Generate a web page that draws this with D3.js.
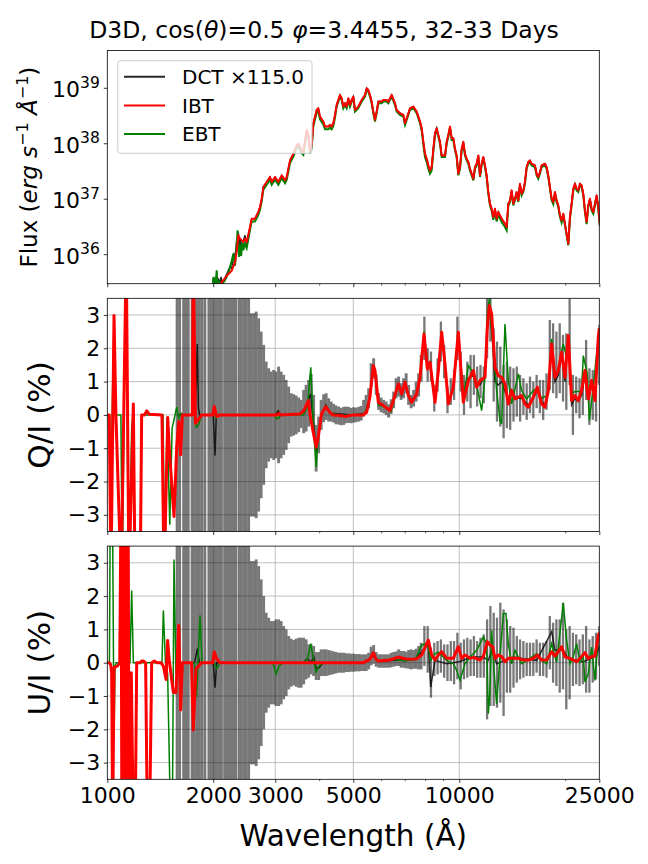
<!DOCTYPE html>
<html><head><meta charset="utf-8">
<script src="https://cdn.jsdelivr.net/npm/d3@7"></script>
<style>body{margin:0;background:#fff}svg text{font-family:"DejaVu Sans",sans-serif}</style>
</head><body>
<svg id="c" width="648" height="864"></svg>
<script>
// ---------------- DATA ----------------
const titleText = ["D3D, cos(", "θ", ")=0.5 ", "φ", "=3.4455, 32-33 Days"];
const legendLabels = ["DCT ×115.0", "IBT", "EBT"];
const xMajorTicks = [1000, 2000, 3000, 5000, 10000, 25000];
const xMinorTicks = [4000, 6000, 7000, 8000, 9000, 20000];
const xGridTicks = [2000, 3000, 5000, 10000];
const polTicks = [-3, -2, -1, 0, 1, 2, 3];
const fluxTickExp = [36, 37, 38, 39];

// flux: [wavelength (Å), log10 flux]
const fluxIBT = [[2080,35.2],[2113,35.5],[2184,35.62],[2256,35.71],[2306,35.865],[2331,36.05],[2357,36.35],[2383,36.29],[2435,36.23],[2462,36.29],[2489,36.23],[2544,36.5],[2572,36.65],[2628,36.65],[2686,36.77],[2716,36.86],[2746,37.01],[2776,37.22],[2837,37.31],[2900,37.4],[2932,37.31],[2996,37.4],[3062,37.31],[3130,37.43],[3199,37.34],[3234,37.4],[3305,37.7],[3378,37.82],[3452,37.97],[3490,38],[3567,37.88],[3606,37.85],[3686,38.25],[3726,38.16],[3767,37.88],[3808,37.97],[3850,38.37],[3935,38.61],[3977,38.64],[4021,38.49],[4110,38.4],[4155,38.31],[4246,38.31],[4293,38.34],[4340,38.31],[4387,38.37],[4436,38.52],[4484,38.7],[4583,38.88],[4634,38.82],[4684,38.67],[4736,38.73],[4787,38.67],[4840,38.82],[4893,38.7],[4946,38.79],[5001,38.85],[5055,38.61],[5167,38.67],[5281,38.79],[5398,38.88],[5457,39],[5517,38.97],[5577,38.88],[5638,38.76],[5700,38.58],[5762,38.43],[5825,38.58],[5889,38.76],[6019,38.76],[6085,38.79],[6219,38.79],[6287,38.76],[6426,38.88],[6568,38.73],[6640,38.61],[6786,38.55],[6937,38.52],[7013,38.37],[7090,38.46],[7246,38.64],[7406,38.67],[7569,38.58],[7736,38.4],[7821,38.28],[7907,38.035],[7993,37.82],[8081,37.73],[8169,37.61],[8259,37.52],[8349,37.58],[8441,37.91],[8533,38.19],[8627,38.28],[8721,38.16],[8817,38.035],[8913,37.79],[9110,37.79],[9210,38.035],[9311,38.16],[9413,38.31],[9516,38.1],[9620,38.1],[9726,37.91],[9832,37.79],[9940,37.46],[10049,37.58],[10159,37.91],[10270,38.035],[10383,37.82],[10497,37.73],[10612,37.67],[10728,37.55],[10845,37.46],[10965,37.37],[11085,37.58],[11206,37.64],[11329,37.79],[11453,37.43],[11578,37.64],[11705,37.76],[11834,37.61],[11963,37.43],[12094,37.13],[12227,36.92],[12361,36.83],[12496,36.68],[12633,36.83],[12771,36.65],[12911,36.77],[13196,36.65],[13487,36.56],[13635,36.5],[13784,36.92],[13935,36.98],[14088,37.16],[14242,36.92],[14398,37.01],[14556,37.13],[14716,36.98],[14877,37.28],[15040,37.1],[15205,37.16],[15372,37.31],[15540,37.58],[15710,37.67],[15883,37.7],[16057,37.64],[16411,37.61],[16590,37.46],[16772,37.4],[16956,37.49],[17142,37.61],[17520,37.64],[17712,37.58],[17906,37.43],[18102,37.22],[18301,37.01],[18501,36.95],[18704,37.13],[18909,36.98],[19116,36.89],[19326,36.71],[19538,36.62],[19752,36.74],[19968,36.56],[20187,36.38],[20409,36.2],[20632,36.68],[20858,36.92],[21087,37.19],[21318,37.28],[21552,37.19],[21788,37.16],[22027,37.28],[22268,37.25],[22512,37.1],[22759,36.8],[23008,36.59],[23260,36.89],[23515,37.01],[23773,36.83],[24033,36.77],[24297,36.92],[24563,37.07],[24832,36.86],[25104,36.53]];
const fluxEBT = [[1990,35.3],[2005,35.6],[2020,35.42],[2040,35.62],[2046,35.72],[2055,35.42],[2075,35.5],[2095,35.38],[2113,35.48],[2150,35.52],[2184,35.6],[2220,35.72],[2256,35.88],[2280,36.02],[2306,35.8],[2331,36.15],[2345,36.44],[2357,36.15],[2370,35.96],[2383,36.18],[2400,35.98],[2420,36.25],[2435,36.08],[2462,36.2],[2489,36.12],[2544,36.45],[2572,36.6],[2628,36.6],[2686,36.72],[2716,36.81],[2746,36.96],[2776,37.17],[2837,37.26],[2900,37.35],[2932,37.26],[2996,37.35],[3062,37.26],[3130,37.38],[3199,37.29],[3234,37.35],[3305,37.65],[3378,37.77],[3452,37.92],[3490,37.95],[3567,37.83],[3606,37.8],[3686,38.2],[3726,38.11],[3767,37.83],[3808,37.92],[3850,38.32],[3935,38.56],[3977,38.59],[4021,38.44],[4110,38.35],[4155,38.26],[4246,38.26],[4293,38.29],[4340,38.26],[4387,38.32],[4436,38.47],[4484,38.67],[4583,38.85],[4634,38.79],[4684,38.64],[4736,38.7],[4787,38.64],[4840,38.79],[4893,38.67],[4946,38.76],[5001,38.82],[5055,38.58],[5167,38.64],[5281,38.76],[5398,38.85],[5457,38.97],[5517,38.94],[5577,38.85],[5638,38.73],[5700,38.55],[5762,38.4],[5825,38.55],[5889,38.73],[6019,38.73],[6085,38.76],[6219,38.76],[6287,38.73],[6426,38.85],[6568,38.7],[6640,38.58],[6786,38.52],[6937,38.49],[7013,38.34],[7090,38.43],[7246,38.61],[7406,38.64],[7569,38.55],[7736,38.37],[7821,38.24],[7907,37.98],[7993,37.76],[8081,37.67],[8169,37.55],[8259,37.46],[8349,37.52],[8441,37.86],[8533,38.16],[8627,38.25],[8721,38.13],[8817,38.0],[8913,37.76],[9110,37.76],[9210,38.0],[9311,38.13],[9413,38.28],[9516,38.07],[9620,38.07],[9726,37.88],[9832,37.76],[9940,37.43],[10049,37.55],[10159,37.88],[10270,38.0],[10383,37.79],[10497,37.7],[10612,37.64],[10728,37.52],[10845,37.43],[10965,37.34],[11085,37.55],[11206,37.61],[11329,37.76],[11453,37.4],[11578,37.61],[11705,37.73],[11834,37.58],[11963,37.4],[12094,37.1],[12227,36.89],[12361,36.79],[12496,36.63],[12633,36.78],[12771,36.6],[12911,36.72],[13196,36.59],[13487,36.5],[13635,36.44],[13784,36.88],[13935,36.95],[14088,37.13],[14242,36.89],[14398,36.98],[14556,37.1],[14716,36.95],[14877,37.25],[15040,37.07],[15205,37.13],[15372,37.28],[15540,37.55],[15710,37.64],[15883,37.67],[16057,37.61],[16411,37.58],[16590,37.43],[16772,37.37],[16956,37.46],[17142,37.58],[17520,37.61],[17712,37.55],[17906,37.4],[18102,37.19],[18301,36.98],[18501,36.91],[18704,37.1],[18909,36.95],[19116,36.86],[19326,36.68],[19538,36.58],[19752,36.71],[19968,36.53],[20187,36.35],[20409,36.17],[20632,36.65],[20858,36.89],[21087,37.16],[21318,37.25],[21552,37.16],[21788,37.13],[22027,37.25],[22268,37.22],[22512,37.07],[22759,36.77],[23008,36.55],[23260,36.86],[23515,36.98],[23773,36.8],[24033,36.74],[24297,36.89],[24563,37.04],[24832,36.83],[25104,36.5]];
const fluxDCT = [[1990,35.4],[2000,35.58],[2012,35.35],[2025,35.55],[2040,35.5],[2052,35.3],[2070,35.55],[2090,35.5],[2105,35.6],[2120,35.45],[2150,35.55],[2184,35.65],[2230,35.78],[2256,35.75],[2290,36.0],[2306,35.95],[2331,36.25],[2345,36.2],[2357,36.4],[2370,36.12],[2383,36.3],[2400,36.1],[2420,36.15],[2435,36.25],[2462,36.35],[2489,36.2],[2544,36.5],[2572,36.65],[2628,36.65],[2686,36.77],[2716,36.86],[2746,37.01],[2776,37.22],[2837,37.31],[2900,37.4],[2932,37.31],[2996,37.4],[3062,37.31],[3130,37.43],[3199,37.34],[3234,37.4],[3305,37.7],[3378,37.82],[3452,37.97],[3490,38],[3567,37.88],[3606,37.85],[3686,38.25],[3726,38.16],[3767,37.88],[3808,37.97],[3850,38.37],[3935,38.61],[3977,38.64],[4021,38.49],[4110,38.4],[4155,38.31],[4246,38.31],[4293,38.34],[4340,38.31],[4387,38.37],[4436,38.52],[4484,38.7],[4583,38.88],[4634,38.82],[4684,38.67],[4736,38.73],[4787,38.67],[4840,38.82],[4893,38.7],[4946,38.79],[5001,38.85],[5055,38.61],[5167,38.67],[5281,38.79],[5398,38.88],[5457,39],[5517,38.97],[5577,38.88],[5638,38.76],[5700,38.58],[5762,38.43],[5825,38.58],[5889,38.76],[6019,38.76],[6085,38.79],[6219,38.79],[6287,38.76],[6426,38.88],[6568,38.73],[6640,38.61],[6786,38.55],[6937,38.52],[7013,38.37],[7090,38.46],[7246,38.64],[7406,38.67],[7569,38.58],[7736,38.4],[7821,38.28],[7907,38.035],[7993,37.82],[8081,37.73],[8169,37.61],[8259,37.52],[8349,37.58],[8441,37.91],[8533,38.19],[8627,38.28],[8721,38.16],[8817,38.035],[8913,37.79],[9110,37.79],[9210,38.035],[9311,38.16],[9413,38.31],[9516,38.1],[9620,38.1],[9726,37.91],[9832,37.79],[9940,37.46],[10049,37.58],[10159,37.91],[10270,38.035],[10383,37.82],[10497,37.73],[10612,37.67],[10728,37.55],[10845,37.46],[10965,37.37],[11085,37.58],[11206,37.64],[11329,37.79],[11453,37.43],[11578,37.64],[11705,37.76],[11834,37.61],[11963,37.43],[12094,37.13],[12227,36.92],[12361,36.83],[12496,36.68],[12633,36.83],[12771,36.65],[12911,36.77],[13196,36.65],[13487,36.56],[13635,36.5],[13784,36.92],[13935,36.98],[14088,37.16],[14242,36.92],[14398,37.01],[14556,37.13],[14716,36.98],[14877,37.28],[15040,37.1],[15205,37.16],[15372,37.31],[15540,37.58],[15710,37.67],[15883,37.7],[16057,37.64],[16411,37.61],[16590,37.46],[16772,37.4],[16956,37.49],[17142,37.61],[17520,37.64],[17712,37.58],[17906,37.43],[18102,37.22],[18301,37.01],[18501,36.95],[18704,37.13],[18909,36.98],[19116,36.89],[19326,36.71],[19538,36.62],[19752,36.74],[19968,36.56],[20187,36.38],[20409,36.2],[20632,36.68],[20858,36.92],[21087,37.19],[21318,37.28],[21552,37.19],[21788,37.16],[22027,37.28],[22268,37.25],[22512,37.1],[22759,36.8],[23008,36.59],[23260,36.89],[23515,37.01],[23773,36.83],[24033,36.77],[24297,36.92],[24563,37.07],[24832,36.86],[25104,36.53]];

// binned error bars (Å) – three stretches of bins
const binLamA = [1579,1605,1648,1675,1698,1742,1767,1796,1826,1856,1893,1944,1976,2009,2042,2076,2110,2155,2182,2218,2254,2291,2316,2368,2400,2440,2480,2521];
const binLamB = [2563,2605,2648,2691,2736,2781,2827,2873,2921,2969,3018,3068,3118,3170,3222,3275,3329,3384,3440,3497,3554,3613,3672,3733,3795,3857,3921,3985,4051,4118,4186,4255,4325,4396,4469,4543,4618,4694,4771,4850,4930,5011,5094,5178,5263,5350,5438,5528,5619,5712,5806,5902,5999,6098,6199,6301,6405,6510,6618,6727,6838,6950,7065,7181,7300,7420,7543,7667,7793];
const binLamC = [7960,8134,8311,8493,8678,8868,9061,9259,9461,9668,9879,10094,10315,10540,10770,11005,11245,11491,11742,11998,12260,12528,12801,13081,13366,13658,13956,14261,14572,14890,15215,15547,15887,16234,16588,16950,17320,17698,18085,18479,18883,19295,19716,20147,20587,21036,21495,21965,22444,22934,23435,23946,24469,25003];

const qMidA = [0,0,0,0,0,0,0,0,0,0,0,0,0,0,0,0,0,0,0,0,0,0,0,0,0,0,0,0];
const qErrA = [9,9,9,9,9,9,9,9,9,9,9,9,9,9,9,9,9,9,9,9,9,9,9,9,9,9,9,9];
const qMidB = [0,0,0,0,0,0,0,0,0,0, 0,0,0,0,0,0,0,0,0,0, 0.03,0.1,0.2,0.35,0.63,0,-1,-0.6,0,0.2, 0.25,0.15,0.1,0.05,0,-0.02,-0.05,-0.03,0,0, -0.02,0,0,0.02,0.05,0.2,0.35,0.5,1.2,1.4, 0.9,0.4,0.3,0.25,0.2,0.12,0.25,0.45,0.8,0.85, 0.7,0.8,0.95,0.6,0.4,0.5,0.7,0.9,1.4];
const qErrB = [3.05,3.05,3.1,2.9,2.5,2.1,1.6,1.4,1.3,1.35, 1.3,1.45,1.3,1.2,1.05,0.85,0.65,0.62,0.58,0.52, 0.42,0.65,0.7,0.7,0.6,0.6,0.7,0.55,0.45,0.42, 0.4,0.35,0.3,0.28,0.28,0.27,0.26,0.27,0.25,0.24, 0.23,0.23,0.22,0.22,0.22,0.25,0.25,0.3,0.35,0.3, 0.3,0.25,0.22,0.2,0.2,0.2,0.22,0.25,0.3,0.3, 0.25,0.3,0.3,0.3,0.2,0.25,0.3,0.35,0.4];
const qMidC = [2.3,1.5,1.45,0.5,1.2,2.2,1.6,0.45,0.7,0.9, 2.3,1.3,0.6,1.0,1.0,1.2,0.85,1.0,0.9,2.6, 3.0,1.5,1.0,0.85,0.4,0.6,0.5,0.6,0.7,0.5, 0.55,0.4,0.6,0.45,0.7,0.55,0.45,0.7,1.8,1.7, 1.5,1.7,1.4,1.3,2.2,0.3,0.6,0.5,0.6,1.35, 0.55,0.6,0.7,1.8];
const qErrC = [0.65,0.5,0.45,0.4,0.5,0.6,0.5,0.4,0.4,0.45, 0.65,0.6,0.6,0.6,0.8,0.6,0.6,0.5,0.55,0.9, 0.8,1.1,1.2,1.2,1.1,1.0,0.95,0.8,0.75,0.7, 0.55,0.55,0.55,0.55,0.5,0.5,0.6,0.55,1.05,1.05, 1.0,1.05,1.0,1.15,1.3,0.9,0.55,0.6,0.6,0.9, 0.85,0.75,0.9,0.9];

const uMidA = [0,0,0,0,0,0,0,0,0,0,0,0,0,0,0,0,0,0,0,0,0,0,0,0,0,0,0,0];
const uErrA = [9,9,9,9,9,9,9,9,9,9,9,9,9,9,9,9,9,9,9,9,9,9,9,9,9,9,9,9];
const uMidB = [0,0,0,0,0,0,0,0,0,0, 0,0,0,0,0,0,0,0,0,0, 0,0.05,0.1,0.05,0.1,0.05,-0.1,-0.1,0,0, 0,0,0,0,0,0,0,0,0,0, 0,0,0,0,0,0,0,0.05,0.2,0.25, 0.1,0.05,0.05,0.05,0.05,0.05,0.08,0.1,0.12,0.15, 0.1,0.1,0.08,0.1,0.1,0.1,0.12,0.15,0.2];
const uErrB = [3.05,3.05,3.1,2.9,2.5,2.0,1.5,1.35,1.25,1.25, 1.3,1.3,1.25,1.1,1.0,0.8,0.72,0.68,0.72,0.75, 0.75,0.7,0.6,0.5,0.45,0.45,0.42,0.42,0.4,0.4, 0.4,0.38,0.36,0.34,0.32,0.3,0.3,0.3,0.28,0.28, 0.27,0.27,0.26,0.26,0.25,0.25,0.25,0.25,0.28,0.28, 0.22,0.2,0.2,0.2,0.2,0.2,0.22,0.22,0.22,0.25, 0.25,0.25,0.25,0.28,0.3,0.28,0.3,0.35,0.4];
const uMidC = [0.5,0.4,-0.3,0.1,0.15,0.2,0.05,0.0,0.05,0.0, 0.2,-0.1,0.1,0.15,0.15,0.2,0.1,0.15,0.2,-0.2, 0.2,0.1,0.0,0.3,0.0,0.2,0.1,0.15,0.1,0.1, 0.1,0.1,0.1,0.1,0.2,0.1,0.1,0.1,0.6,0.3, 0.3,0.2,0.5,-0.2,0.0,0.1,0.1,0.0,0.1,0.1, -0.1,0.1,0.2,0.5];
const uErrC = [0.6,0.7,0.75,0.5,0.5,0.5,0.5,0.55,0.6,0.65, 0.7,0.7,0.6,0.6,0.55,0.6,0.55,0.6,0.65,1.5, 1.5,1.4,1.35,1.5,1.6,1.1,1.0,0.9,0.7,0.6, 0.55,0.5,0.5,0.5,0.5,0.5,0.5,0.55,0.8,0.9, 1.0,1.1,1.3,1.2,1.1,0.8,0.75,0.7,0.75,1.0, 0.8,0.7,0.7,0.6];

// polarisation lines: [wavelength (Å), %]
const qIBT = [[1000,0],[1013,0],[1024,-5],[1045,2.98],[1058,0],[1095,-5],[1132,5],[1152,-5],[1186,0.33],[1199,-5],[1240,-5],[1252,0],[1275,0],[1294,0.12],[1315,0.02],[1430,0],[1450,-5],[1485,-0.08],[1500,-1],[1547,-3.05],[1575,-0.95],[1596,-0.2],[1616,-1.2],[1634,0],[1745,0],[1755,5],[1780,-0.25],[1813,-0.15],[1854,0],[1995,0],[2013,0.25],[2046,-0.05],[2090,0],[3040,0],[3070,0.05],[3110,0],[3527,0.03],[3620,0.13],[3670,0.28],[3727,0.43],[3782,-0.1],[3860,-0.6],[3922,-0.97],[3974,-0.67],[4062,0.03],[4178,0.25],[4284,0.08],[4375,0],[4583,-0.02],[4740,-0.05],[4995,0],[5342,0],[5456,0.08],[5573,0.53],[5700,1.48],[5762,1.33],[5890,0.38],[6085,0.28],[6357,0.13],[6497,0.43],[6713,0.93],[6861,0.63],[7013,0.98],[7167,0.58],[7325,0.38],[7568,0.63],[7735,1.13],[7941,2.43],[8116,1.38],[8259,1.58],[8534,0.38],[8722,1.33],[8914,2.48],[9110,1.53],[9311,0.33],[9620,0.83],[9940,2.48],[10270,0.38],[10612,1.03],[10965,1.33],[11206,0.83],[11453,1.03],[11834,1.13],[12017,2.63],[12175,3.28],[12362,3.03],[12634,1.43],[12912,1.18],[13196,1.13],[13487,0.93],[13784,0.33],[14088,0.73],[14398,0.48],[14716,0.53],[15040,0.58],[15372,0.33],[15710,0.23],[16233,0.53],[16664,0.83],[17142,0.33],[17520,0.23],[17906,0.73],[18301,2.13],[18704,1.13],[19116,1.33],[19538,1.88],[19968,1.13],[20409,2.38],[20858,0.43],[21318,0.58],[21788,0.43],[22268,0.73],[22759,1.33],[23260,0.48],[23773,1.03],[24297,0.43],[24832,2.33],[25003,2.6]];
const qEBT = [[1000,0],[1014,0],[1022,-3.17],[1034,0.5],[1045,2.9],[1056,0],[1093,0],[1103,-5],[1128,5],[1150,-5],[1173,-0.37],[1186,0.2],[1200,-5],[1238,-5],[1252,0],[1440,0],[1458,-5],[1478,-0.07],[1505,-3.3],[1528,-0.4],[1575,0.23],[1596,-0.1],[1620,0.05],[1640,0],[1770,0],[1790,-0.37],[1815,-0.3],[1854,0],[2000,0],[2013,0.08],[2035,-0.1],[2060,0],[2990,0],[3030,-0.12],[3070,-0.1],[3110,0],[3600,0],[3700,0.2],[3786,1.43],[3860,-0.5],[3922,-1.57],[3990,-0.4],[4062,0.03],[4178,0.28],[4300,0.05],[4600,-0.02],[5000,0],[5400,0.02],[5573,0.5],[5700,1.45],[5790,1.2],[5890,0.3],[6200,0.22],[6400,0.1],[6713,0.9],[6861,0.7],[7013,0.95],[7167,0.6],[7325,0.4],[7568,0.6],[7735,1.1],[7941,2.5],[8116,1.5],[8259,1.6],[8534,0.4],[8722,1.3],[8914,2.4],[9110,1.6],[9311,0.3],[9620,0.9],[9940,2.5],[10270,0.5],[10612,1.48],[10845,1.33],[11206,0.9],[11578,0.13],[11834,1.1],[12017,3.0],[12175,3.5],[12362,2.5],[12497,2.03],[12771,0.73],[13053,-0.17],[13196,-0.27],[13487,2.73],[13784,1.03],[14088,0.33],[14716,1.23],[15040,0.73],[15540,0.48],[16233,0.73],[16664,0.8],[17142,0.5],[17906,0.6],[18301,2.28],[18704,1.2],[19116,1.3],[19411,1.8],[19751,2.13],[20187,1.73],[20409,2.2],[20858,0.63],[21318,0.7],[22268,0.7],[22512,1.78],[23110,1.23],[23416,-0.17],[24033,0.83],[24832,2.33],[25003,2.6]];
const qDCT = [[1580,0],[1770,0],[1790,1.0],[1802,2.13],[1815,0.2],[1830,0],[2000,0],[2024,-1.22],[2040,0],[3000,0],[3060,0.12],[3110,0],[3527,0.03],[3670,0.25],[3782,0.63],[3860,-0.3],[3922,-1.1],[3990,-0.5],[4062,0],[4178,0.3],[4300,0.05],[5000,0],[5400,0.05],[5573,0.5],[5700,1.45],[5762,1.3],[5890,0.35],[6357,0.15],[6713,0.9],[6861,0.6],[7013,0.95],[7167,0.6],[7325,0.45],[7568,0.6],[7735,1.1],[7941,2.4],[8116,1.5],[8259,1.5],[8534,0.4],[8722,1.3],[8914,2.4],[9110,1.5],[9311,0.35],[9620,0.85],[9940,2.4],[10270,0.5],[10612,1.1],[10965,1.2],[11206,0.9],[11453,0.9],[11834,1.2],[12017,2.6],[12175,3.2],[12362,2.6],[12634,1.0],[12912,0.9],[13196,1.0],[13487,0.7],[13784,0.5],[14088,0.75],[14398,0.55],[14716,0.5],[15040,0.5],[15372,0.4],[15710,0.3],[16233,0.5],[16664,0.75],[17142,0.4],[17520,0.3],[17906,0.7],[18301,2.0],[18704,1.0],[19116,1.2],[19538,1.8],[19968,1.0],[20409,2.3],[20858,0.3],[21318,0.5],[21788,0.4],[22268,0.6],[22759,1.2],[23260,0.5],[23773,0.9],[24297,0.5],[24832,2.2],[25003,2.4]];

const uIBT = [[1000,0],[1013,0],[1022,-0.05],[1029,-0.3],[1036,-5],[1045,-0.15],[1068,-0.1],[1085,0],[1094,5],[1100,-5],[1106,5],[1112,-5],[1118,5],[1124,-5],[1130,5],[1138,-5],[1146,5],[1153,-5],[1160,-5],[1170,-0.3],[1186,-5],[1200,-5],[1212,0],[1240,0],[1252,0.05],[1266,0.05],[1285,0],[1300,-5],[1318,-5],[1337,0],[1360,0.05],[1385,0],[1420,0],[1443,-0.1],[1469,-0.5],[1484,0.67],[1500,0.07],[1540,-0.88],[1567,-0.9],[1596,1.12],[1616,-1.42],[1634,0],[1735,0],[1755,-2.02],[1786,-0.18],[1813,-0.12],[1850,0],[1995,0],[2013,0.32],[2046,0.12],[2090,0],[5342,0],[5573,0.1],[5700,0.3],[5800,0.1],[5890,0.05],[6357,0.08],[6713,0.17],[7000,0.12],[7325,0.1],[7568,0.12],[7820,0.23],[8169,0.68],[8349,0.23],[8534,0.08],[8722,0.23],[8914,0.33],[9210,0.13],[9620,0.13],[9940,0.48],[10159,0.13],[10383,0.23],[10728,0.13],[11000,0.16],[11453,0.08],[11705,0.18],[12017,0.63],[12227,0.53],[12443,0.48],[12634,0.13],[12912,0.23],[13196,0.18],[13487,0.03],[13784,0.13],[14254,0.13],[14716,0.13],[15205,0.08],[15710,0.08],[16233,0.13],[16664,0.23],[17142,0.08],[17712,0.08],[18301,0.33],[18704,0.2],[19116,0.33],[19538,0.48],[19968,0.18],[20632,0.13],[21552,0.03],[22027,0.13],[22759,0.3],[23260,0.13],[23773,0.18],[24297,0.2],[24832,0.8],[25003,0.9]];
const uEBT = [[1000,0],[1014,0],[1020,5],[1034,5],[1045,-2.32],[1052,-0.1],[1060,0],[1088,0],[1094,5],[1100,0],[1160,0],[1173,2.17],[1186,0],[1430,0],[1443,1.57],[1463,0],[1484,-0.33],[1514,-5],[1530,-5],[1547,3.1],[1567,-0.33],[1580,0],[1770,0],[1792,-1.02],[1834,1.42],[1858,0],[2013,0],[2046,-0.18],[2090,0],[2950,0],[3020,-0.33],[3080,-0.1],[3150,0],[3600,0],[3700,0.1],[3786,0.57],[3850,0.1],[3922,-0.28],[4000,-0.1],[4100,0],[5342,0],[5573,0.1],[5700,0.25],[5900,0.05],[6500,0.1],[7000,0.05],[7500,0.1],[7820,0.52],[8000,0.57],[8169,0.47],[8295,0.07],[8534,0.27],[8722,0.32],[9210,0.07],[9620,-0.03],[9832,-0.23],[10049,-0.53],[10383,-0.03],[10728,0.17],[11206,0.37],[11705,0.77],[11963,0.57],[12094,-1.53],[12227,-0.83],[12362,0.97],[12551,-0.23],[12771,-1.23],[13053,0.17],[13341,1.48],[13576,1.48],[13784,0.57],[14088,-0.03],[14398,0.37],[14716,0.17],[15040,-0.03],[15540,0.07],[16057,0.17],[16592,0.27],[17142,0.07],[17712,-0.03],[18301,0.57],[18909,0.02],[19411,1.08],[19751,1.8],[20187,0.67],[20632,-0.03],[21087,0.17],[21552,0.57],[22027,0.02],[22512,0.22],[22759,-0.58],[23260,-0.33],[23773,0.47],[24297,-0.53],[24832,0.77],[25003,0.9]];
const uDCT = [[1580,0],[1770,0],[1802,0.42],[1826,0],[2000,0],[2024,-0.75],[2045,0],[3600,0],[3700,0.12],[3790,0],[3860,0.17],[3922,-0.17],[4000,-0.15],[4100,0],[5342,0],[5700,0.2],[5900,0.05],[7500,0.1],[8169,0.57],[8295,-0.73],[8534,0.07],[9210,-0.03],[10000,0.03],[10845,0.17],[11705,0.17],[12094,0.07],[12362,0.37],[12771,-0.03],[13487,0.07],[14254,0.17],[15205,0.12],[16592,0.07],[18301,0.93],[18704,0.37],[19751,0.37],[20409,0.12],[22512,0.02],[24563,0.22],[25003,0.5]];

// ---------------- DRAWING ----------------
const svg = d3.select("#c");
const FONT = "DejaVu Sans, sans-serif";
const xL = 107.3, xR = 599.3;
const P = [{t:50.5,b:283.7},{t:298.3,b:531.5},{t:546.1,b:779.3}];
const x = d3.scaleLog().domain([1000,25000]).range([xL,xR]);
const yF = d3.scaleLog().domain([3e35,4.8e39]).range([P[0].b,P[0].t]);
const yQ = d3.scaleLinear().domain([-3.5,3.5]).range([P[1].b,P[1].t]);
const yU = d3.scaleLinear().domain([-3.5,3.5]).range([P[2].b,P[2].t]);

const defs = svg.append("defs");
P.forEach((p,i)=>defs.append("clipPath").attr("id","cp"+i).append("rect")
  .attr("x",xL).attr("y",p.t).attr("width",xR-xL).attr("height",p.b-p.t));

function xAxis(p, withLabels){
  const g = svg.append("g").attr("transform",`translate(0,${p.b})`)
    .call(d3.axisBottom(x).tickValues(xMajorTicks).tickSize(3.5).tickPadding(4.5)
      .tickFormat(withLabels ? d=>String(d) : ()=>""));
  g.select(".domain").remove();
  g.selectAll("line").attr("stroke","#000").attr("stroke-width",0.8);
  g.selectAll("text").attr("font-size",22).attr("font-family",FONT).attr("fill","#000");
  const gm = svg.append("g").attr("transform",`translate(0,${p.b})`)
    .call(d3.axisBottom(x).tickValues(xMinorTicks).tickSize(2).tickFormat(()=>""));
  gm.select(".domain").remove();
  gm.selectAll("line").attr("stroke","#000").attr("stroke-width",0.6);
}
function spine(p){
  svg.append("rect").attr("x",xL).attr("y",p.t).attr("width",xR-xL).attr("height",p.b-p.t)
    .attr("fill","none").attr("stroke","#000").attr("stroke-width",0.8);
}
const lineGen = (ys, tf) => d3.line().x(d=>x(d[0])).y(d=>ys(tf?tf(d[1]):d[1]));

// ---- title
const tt = svg.append("text").attr("x",324).attr("y",37.5).attr("text-anchor","middle")
  .attr("font-size",23.5).attr("font-family",FONT).attr("fill","#000");
titleText.forEach((s,i)=>{ const ts=tt.append("tspan").text(s); if(i===1||i===3) ts.attr("font-style","italic"); });

// ---- top panel (flux)
{
  const p = P[0];
  const g = svg.append("g").attr("clip-path","url(#cp0)");
  const pow = v=>Math.pow(10,v);
  g.append("path").datum(fluxDCT).attr("d",lineGen(yF,pow)).attr("fill","none").attr("stroke","#000").attr("stroke-opacity",0.85).attr("stroke-width",1.5);
  g.append("path").datum(fluxEBT).attr("d",lineGen(yF,pow)).attr("fill","none").attr("stroke","#008000").attr("stroke-width",2);
  g.append("path").datum(fluxIBT).attr("d",lineGen(yF,pow)).attr("fill","none").attr("stroke","#ff0000").attr("stroke-width",2).attr("stroke-linejoin","round");
  xAxis(p,false);
  const ya = svg.append("g");
  fluxTickExp.forEach(e=>{
    const yy = yF(Math.pow(10,e));
    ya.append("line").attr("x1",xL-3.5).attr("x2",xL).attr("y1",yy).attr("y2",yy).attr("stroke","#000").attr("stroke-width",0.8);
    const t = ya.append("text").attr("x",xL-7.5).attr("y",yy+9).attr("text-anchor","end")
      .attr("font-family",FONT).attr("font-size",22).attr("fill","#000");
    t.append("tspan").text("10");
    t.append("tspan").attr("dy",-9.5).attr("font-size",15.5).text(String(e));
  });
  spine(p);
  const yl = svg.append("text").attr("transform",`translate(37,${(p.t+p.b)/2}) rotate(-90)`)
    .attr("text-anchor","middle").attr("font-family",FONT).attr("font-size",23).attr("fill","#000");
  yl.append("tspan").text("Flux (");
  yl.append("tspan").attr("font-style","italic").text("erg s");
  yl.append("tspan").attr("dy",-9).attr("font-size",16).text("−1");
  yl.append("tspan").attr("dy",9).text(" ");
  yl.append("tspan").attr("font-style","italic").text("Å");
  yl.append("tspan").attr("dy",-9).attr("font-size",16).text("−1");
  yl.append("tspan").attr("dy",9).text(")");
  const lg = svg.append("g");
  lg.append("rect").attr("x",117.8).attr("y",60.7).attr("width",194.2).attr("height",92.6).attr("rx",3)
    .attr("fill","#fff").attr("fill-opacity",0.8).attr("stroke","#cccccc").attr("stroke-width",1);
  const lc = [["#000",0.85],["#ff0000",1],["#008000",1]];
  const ly = [76.7,105.5,134];
  legendLabels.forEach((s,i)=>{
    lg.append("line").attr("x1",124).attr("x2",165).attr("y1",ly[i]).attr("y2",ly[i])
      .attr("stroke",lc[i][0]).attr("stroke-opacity",lc[i][1]).attr("stroke-width",2);
    lg.append("text").attr("x",182).attr("y",ly[i]+7.3).attr("font-family",FONT).attr("font-size",20).attr("fill","#000").text(s);
  });
}

// ---- polarisation panels
function polPanel(idx, ys, mids, errs, dct, ebt, ibt, label){
  const p = P[idx];
  const grid = svg.append("g");
  polTicks.forEach(v=>grid.append("line").attr("x1",xL).attr("x2",xR).attr("y1",ys(v)).attr("y2",ys(v))
    .attr("stroke","#b0b0b0").attr("stroke-width",0.8));
  xGridTicks.forEach(v=>grid.append("line").attr("x1",x(v)).attr("x2",x(v)).attr("y1",p.t).attr("y2",p.b)
    .attr("stroke","#b0b0b0").attr("stroke-width",0.8));
  const bars = svg.append("g").attr("clip-path",`url(#cp${idx})`).attr("opacity",0.53);
  const lams = [binLamA, binLamB, binLamC];
  const barW = [2.9, 2.9, 2.3];
  lams.forEach((L,k)=>{
    const n = Math.min(L.length, mids[k].length, errs[k].length);
    for(let i=0;i<n;i++){
      const top = ys(mids[k][i]+errs[k][i]), bot = ys(mids[k][i]-errs[k][i]);
      bars.append("rect").attr("x",x(L[i])-barW[k]/2).attr("width",barW[k])
        .attr("y",top).attr("height",bot-top).attr("fill","#000");
    }
  });
  const g = svg.append("g").attr("clip-path",`url(#cp${idx})`);
  g.append("path").datum(dct).attr("d",lineGen(ys)).attr("fill","none").attr("stroke","#000").attr("stroke-opacity",0.8).attr("stroke-width",1.5);
  g.append("path").datum(ebt).attr("d",lineGen(ys)).attr("fill","none").attr("stroke","#008000").attr("stroke-width",1.5);
  g.append("path").datum(ibt).attr("d",lineGen(ys)).attr("fill","none").attr("stroke","#ff0000").attr("stroke-width",3).attr("stroke-linejoin","round");
  xAxis(p, idx===2);
  const ya = svg.append("g").attr("transform",`translate(${xL},0)`)
    .call(d3.axisLeft(ys).tickValues(polTicks).tickSize(3.5).tickPadding(3.5)
      .tickFormat(d=> d<0 ? "−"+(-d) : String(d)));
  ya.select(".domain").remove();
  ya.selectAll("line").attr("stroke","#000").attr("stroke-width",0.8);
  ya.selectAll("text").attr("font-size",22).attr("font-family",FONT).attr("fill","#000");
  spine(p);
  svg.append("text").attr("transform",`translate(50,${(p.t+p.b)/2}) rotate(-90)`)
    .attr("text-anchor","middle").attr("font-family",FONT).attr("font-size",31).attr("fill","#000").text(label);
}
polPanel(1, yQ, [qMidA,qMidB,qMidC], [qErrA,qErrB,qErrC], qDCT, qEBT, qIBT, "Q/I (%)");
polPanel(2, yU, [uMidA,uMidB,uMidC], [uErrA,uErrB,uErrC], uDCT, uEBT, uIBT, "U/I (%)");

svg.append("text").attr("x",(xL+xR)/2).attr("y",846).attr("text-anchor","middle")
  .attr("font-family",FONT).attr("font-size",29.5).attr("fill","#000").text("Wavelength (Å)");
</script>
</body></html>
